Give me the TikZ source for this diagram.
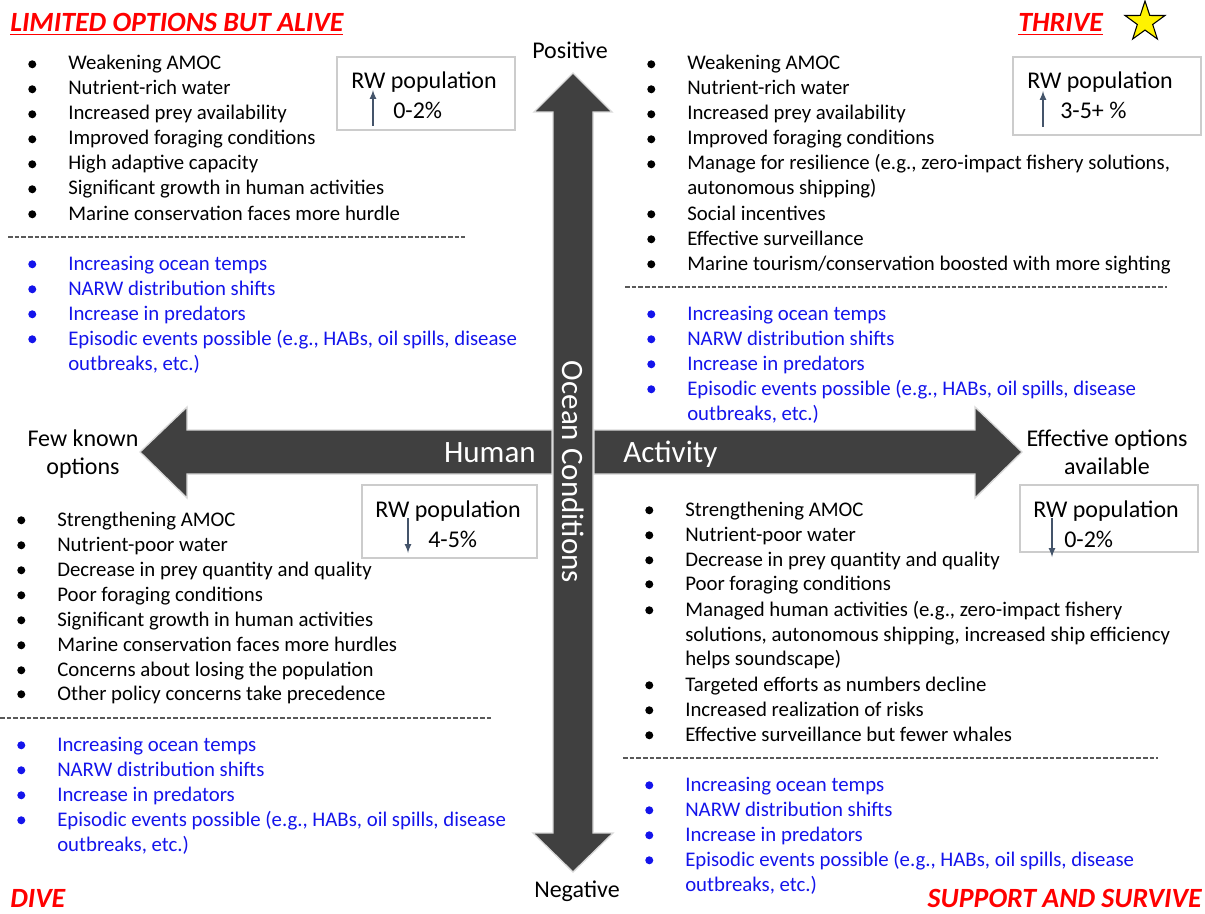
\documentclass[tikz,border=0pt]{standalone}
\usepackage{fontspec}
\setmainfont{Carlito}
\usetikzlibrary{arrows,shapes.geometric}

\definecolor{shaft}{RGB}{64,64,64}
\definecolor{blu}{RGB}{20,20,235}
\definecolor{slate}{RGB}{68,84,106}
\newcommand{\itmfont}{\fontsize{15.6}{18}\selectfont}
\newcommand{\lblfont}{\fontsize{18}{21}\selectfont}
\newcommand{\rwfont}{\fontsize{18}{21}\selectfont}
\newcommand{\axfont}{\fontsize{23.3}{28}\selectfont}
\newcommand{\ttlfont}{\fontsize{20.9}{24}\selectfont\bfseries\itshape}

\begin{document}
\begin{tikzpicture}[>=latex, x=0.75pt, y=-0.75pt,
  bul/.style={circle, fill, inner sep=0pt, minimum size=6pt, text height=0pt, text depth=0pt},
  cont/.style={anchor=base west, inner sep=0pt, font=\itmfont, text height=12pt, text depth=3.4pt},
  bcont/.style={cont, text=blu},
  itm/.style={cont, label={[bul, label distance=23.6pt]left:{}}},
  bitm/.style={bcont, label={[bul, fill=blu, label distance=23.6pt]left:{}}},
  sepline/.style={gray!70!black, dash pattern=on 3.5pt off 1.5pt, line width=0.8pt},
  rwbox/.style={draw=gray!40, line width=1.6pt},
  rwtxt/.style={anchor=base west, inner sep=0pt, font=\rwfont},
  rwarr/.style={->, slate, line width=1.3pt},
  ttl/.style={inner sep=0pt, font=\ttlfont, text=red}]

\useasboundingbox (0,0) rectangle (1205,913);

% axes
\draw[fill=shaft, draw=gray!30, line width=1pt] (552,430)--(187,430)--(187,407)--(140,452)--(187,498)--(187,474)--(552,474)--cycle;
\draw[fill=shaft, draw=gray!30, line width=1pt] (594,430)--(975,430)--(975,407)--(1022,452)--(975,498)--(975,474)--(594,474)--cycle;
\draw[fill=shaft, draw=gray!30, line width=1pt] (553,833)--(553,112)--(534,112)--(573,73)--(612,112)--(593,112)--(593,833)--(613,833)--(573,872)--(533,833)--cycle;

\node[anchor=base east, inner sep=0pt, font=\axfont, text=white] (human) at (536,462) {Human};
\node[anchor=base west, inner sep=0pt, font=\axfont, text=white] (activity) at (623,462) {Activity};
\node[rotate=-90, inner sep=0pt, font=\axfont, text=white] (ocean) at (573,472) {Ocean Conditions};

\node[anchor=base, inner sep=0pt, font=\lblfont] (pos) at (570,59) {Positive};
\node[anchor=base, inner sep=0pt, font=\lblfont] (neg) at (577,897) {Negative};
\node[align=center, inner sep=0pt, font=\lblfont] (few) at (83,454) {Few known\\options};
\node[align=center, inner sep=0pt, font=\lblfont] (eff) at (1107,452) {Effective options\\available};

% corner titles
\node[ttl, anchor=base west] (limited) at (10,32) {\underline{LIMITED OPTIONS BUT ALIVE}};
\node[ttl, anchor=base west] (thrive) at (1018,32) {\underline{THRIVE}};
\node[ttl, anchor=base west] (dive) at (10,907) {DIVE};
\node[ttl, anchor=base east] (support) at (1202,907) {SUPPORT AND SURVIVE};
\node[star, star points=5, star point ratio=2.6, fill=yellow, draw=black, line width=0.8pt, inner sep=0pt, minimum size=31.5pt] (star) at (1145,22) {};

% top left
\node[itm] (tl1) at (68,70) {Weakening AMOC};
\node[itm] (tl2) at (68,95) {Nutrient-rich water};
\node[itm] (tl3) at (68,120) {Increased prey availability};
\node[itm] (tl4) at (68,145) {Improved foraging conditions};
\node[itm] (tl5) at (68,170) {High adaptive capacity};
\node[itm] (tl6) at (68,195) {Significant growth in human activities};
\node[itm] (tl7) at (68,220) {Marine conservation faces more hurdle};
\draw[sepline] (8,237)--(465,237);
\node[bitm] (tlb1) at (68,270) {Increasing ocean temps};
\node[bitm] (tlb2) at (68,295) {NARW distribution shifts};
\node[bitm] (tlb3) at (68,320) {Increase in predators};
\node[bitm] (tlb4) at (68,345) {Episodic events possible (e.g., HABs, oil spills, disease};
\node[bcont] (tlb5) at (68,370) {outbreaks, etc.)};

% top right
\node[itm] (tr1) at (687,70) {Weakening AMOC};
\node[itm] (tr2) at (687,95) {Nutrient-rich water};
\node[itm] (tr3) at (687,120) {Increased prey availability};
\node[itm] (tr4) at (687,145) {Improved foraging conditions};
\node[itm] (tr5) at (687,170) {Manage for resilience (e.g., zero-impact fishery solutions,};
\node[cont] (tr6) at (687,195) {autonomous shipping)};
\node[itm] (tr7) at (687,220) {Social incentives};
\node[itm] (tr8) at (687,245) {Effective surveillance};
\node[itm] (tr9) at (687,270) {Marine tourism/conservation boosted with more sighting};
\draw[sepline] (625,287)--(1167,287);
\node[bitm] (trb1) at (687,320) {Increasing ocean temps};
\node[bitm] (trb2) at (687,345) {NARW distribution shifts};
\node[bitm] (trb3) at (687,370) {Increase in predators};
\node[bitm] (trb4) at (687,395) {Episodic events possible (e.g., HABs, oil spills, disease};
\node[bcont] (trb5) at (687,420) {outbreaks, etc.)};

% bottom left
\node[itm] (bl1) at (57,526) {Strengthening AMOC};
\node[itm] (bl2) at (57,551) {Nutrient-poor water};
\node[itm] (bl3) at (57,576) {Decrease in prey quantity and quality};
\node[itm] (bl4) at (57,601) {Poor foraging conditions};
\node[itm] (bl5) at (57,626) {Significant growth in human activities};
\node[itm] (bl6) at (57,651) {Marine conservation faces more hurdles};
\node[itm] (bl7) at (57,676) {Concerns about losing the population};
\node[itm] (bl8) at (57,700) {Other policy concerns take precedence};
\draw[sepline] (0,718)--(493,718);
\node[bitm] (blb1) at (57,751) {Increasing ocean temps};
\node[bitm] (blb2) at (57,776) {NARW distribution shifts};
\node[bitm] (blb3) at (57,801) {Increase in predators};
\node[bitm] (blb4) at (57,826) {Episodic events possible (e.g., HABs, oil spills, disease};
\node[bcont] (blb5) at (57,851) {outbreaks, etc.)};

% bottom right
\node[itm] (br1) at (685,516) {Strengthening AMOC};
\node[itm] (br2) at (685,541) {Nutrient-poor water};
\node[itm] (br3) at (685,566) {Decrease in prey quantity and quality};
\node[itm] (br4) at (685,590) {Poor foraging conditions};
\node[itm] (br5) at (685,616) {Managed human activities (e.g., zero-impact fishery};
\node[cont] (br6) at (685,641) {solutions, autonomous shipping, increased ship efficiency};
\node[cont] (br7) at (685,665) {helps soundscape)};
\node[itm] (br8) at (685,691) {Targeted efforts as numbers decline};
\node[itm] (br9) at (685,716) {Increased realization of risks};
\node[itm] (br10) at (685,741) {Effective surveillance but fewer whales};
\draw[sepline] (623,758)--(1158,758);
\node[bitm] (brb1) at (685,791) {Increasing ocean temps};
\node[bitm] (brb2) at (685,816) {NARW distribution shifts};
\node[bitm] (brb3) at (685,841) {Increase in predators};
\node[bitm] (brb4) at (685,866) {Episodic events possible (e.g., HABs, oil spills, disease};
\node[bcont] (brb5) at (685,891) {outbreaks, etc.)};

% RW population boxes
\draw[rwbox] (337,57) rectangle (515,130);
\node[rwtxt] (rwtl) at (351,89) {RW population};
\node[rwtxt] (rwtlv) at (393,119) {0-2\%};
\coordinate (tla) at (373,126);
\coordinate (tlb) at (373,90);
\draw[rwarr] (tla)--(tlb);

\draw[rwbox] (1013,57) rectangle (1201,135);
\node[rwtxt] (rwtr) at (1027,89) {RW population};
\node[rwtxt] (rwtrv) at (1060,119) {3-5+ \%};
\coordinate (tra) at (1043,127);
\coordinate (trb) at (1043,91);
\draw[rwarr] (tra)--(trb);

\draw[rwbox] (362,485) rectangle (537,558);
\node[rwtxt] (rwbl) at (375,517) {RW population};
\node[rwtxt] (rwblv) at (428,547) {4-5\%};
\coordinate (bla) at (408,518);
\coordinate (blb) at (408,553);
\draw[rwarr] (bla)--(blb);

\draw[rwbox] (1020,485) rectangle (1198,552);
\node[rwtxt] (rwbr) at (1033,517) {RW population};
\node[rwtxt] (rwbrv) at (1064,547) {0-2\%};
\coordinate (bra) at (1052,518);
\coordinate (brb) at (1052,557);
\draw[rwarr] (bra)--(brb);

\end{tikzpicture}
\end{document}
